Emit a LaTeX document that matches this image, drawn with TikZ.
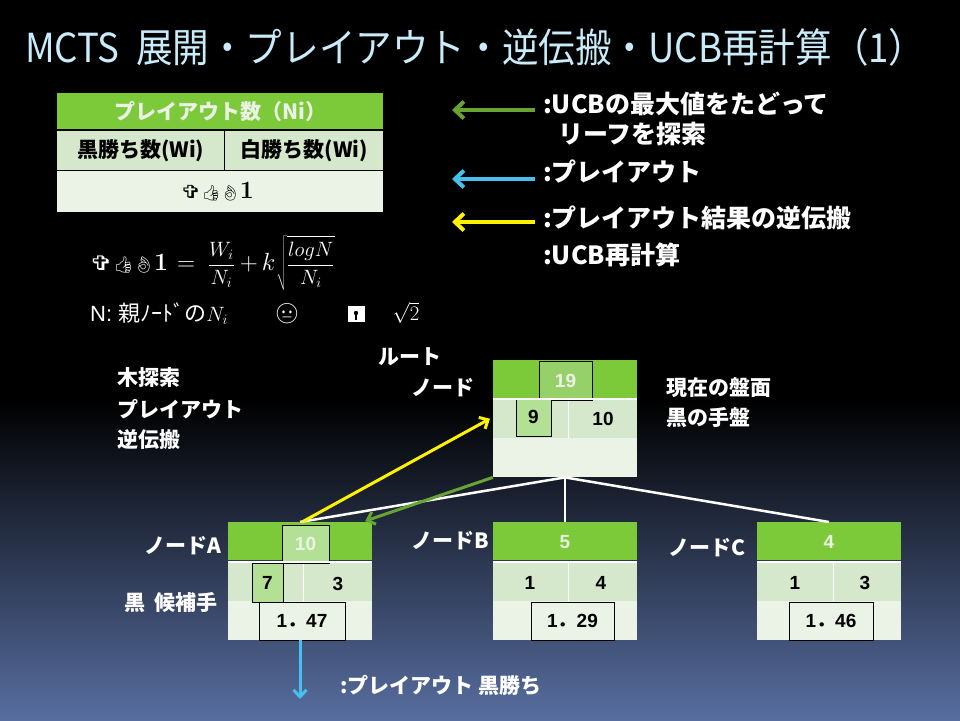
\documentclass[tikz,border=0pt]{standalone}
\usepackage[no-math]{fontspec}
\setmainfont{Liberation Sans}
\newfontfamily\jp{Noto Sans CJK JP}
\newfontfamily\emo{Noto Emoji}
\newfontfamily\dv{DejaVu Sans}
\usetikzlibrary{arrows.meta}
\definecolor{hdr}{RGB}{124,202,58}
\definecolor{rowb}{RGB}{214,232,204}
\definecolor{rowc}{RGB}{235,243,230}
\definecolor{ovla}{RGB}{150,208,105}
\definecolor{ovlb}{RGB}{178,224,148}
\definecolor{titlec}{RGB}{200,236,250}
\definecolor{bgb}{RGB}{88,110,160}
\definecolor{arrG}{RGB}{104,164,52}
\definecolor{arrC}{RGB}{72,192,238}
\definecolor{arrY}{RGB}{255,242,0}
\newcommand{\fs}[1]{\fontsize{#1}{#1}\selectfont}
\newcommand{\ucbsym}[3]{{\dv\fs{#1}\scalebox{1.45}[1]{✞}}{\emo\fs{#2}👍👌}{\fs{#3}$\mathbf{1}$}}
\tikzset{
  hdrcell/.style={fill=hdr, inner sep=0pt, minimum width=144pt, minimum height=38pt},
  midcell/.style={fill=rowb, inner sep=0pt, minimum width=72pt, minimum height=39pt},
  lowcell/.style={fill=rowc, inner sep=0pt, minimum width=144pt, minimum height=39pt},
  ovbox/.style={draw=black, line width=0.8pt, inner sep=0pt},
  num/.style={font=\fs{19}\bfseries, text=black},
  wnum/.style={font=\fs{19}\bfseries, text=rowc},
  lbl/.style={font=\jp\bfseries\fs{21}, text=white, inner sep=0pt},
  leg/.style={font=\jp\bfseries\fs{25}, text=white, inner sep=0pt, anchor=west},
  tcell/.style={font=\jp\bfseries\fs{21}},
  tree/.style={draw=white, line width=2.5pt},
  legarrow/.style={line width=4pt, -{Straight Barb[length=9pt,width=17pt,line width=4pt]}},
  smarrow/.style={line width=3pt, -{Straight Barb[length=7pt,width=13pt,line width=3pt]}},
}
\begin{document}
\begin{tikzpicture}[x=1pt,y=-1pt]
\useasboundingbox (0,0) rectangle (960,720);
\fill[black] (0,0) rectangle (960,720);
\shade[top color=black, bottom color=bgb] (0,400) rectangle (960,720.5);

% title
\node[text=titlec, font=\jp\fs{40}, xscale=0.915, anchor=west, inner sep=0pt] (title) at (25,47)
  {MCTS\ \ 展開・プレイアウト・逆伝搬・UCB再計算（1）};

% top-left table
\node[fill=hdr, minimum width=326pt, minimum height=36pt, inner sep=0pt, anchor=north west] (th) at (57,93) {};
\node[fill=rowb, minimum width=167pt, minimum height=39pt, inner sep=0pt, anchor=north west] (tl) at (57,131) {};
\node[fill=rowb, minimum width=158pt, minimum height=39pt, inner sep=0pt, anchor=north west] (tr) at (225,131) {};
\node[fill=rowc, minimum width=326pt, minimum height=41pt, inner sep=0pt, anchor=north west] (tu) at (57,171) {};
\node[tcell, text=rowc] (tht) at (th) {プレイアウト数（Ni）};
\node[tcell, text=black] (tlt) at (tl) {黒勝ち数(Wi)};
\node[tcell, text=black] (trt) at (tr) {白勝ち数(Wi)};
\node[text=black, inner sep=0pt] (tut) at (217,192) {\ucbsym{18}{15}{26}};

% formula
\node[text=white, anchor=west, inner sep=0pt] (formula) at (89,263)
  {\ucbsym{20}{16}{28}\hspace{9pt}{\fs{26}$=$}\hspace{13pt}{\fs{22}$\displaystyle\frac{W_i}{N_i}$}%
   \hspace{5pt}{\fs{26}$+\,k$}\hspace{1pt}{\fs{22}$\displaystyle\sqrt{\frac{logN}{N_i}}$}};
\node[text=white, font=\fs{22}, anchor=west, inner sep=0pt] (nline) at (90,314)
  {N:\ {\jp 親ﾉｰﾄﾞの}$N_i$};
\node[text=white, font=\emo\fs{20}, inner sep=0pt] (face) at (287,314) {😐};
\node[fill=white, minimum width=17pt, minimum height=16pt, inner sep=0pt] (disk) at (356,314) {};
\fill[black] ([xshift=-4pt,yshift=2pt]disk.north) rectangle ([xshift=6pt,yshift=6pt]disk.north);
\fill[black] ([yshift=1pt]disk.center) circle (2.2pt);
\fill[black] ([xshift=-1pt]disk.center) rectangle ([xshift=1pt,yshift=-5.5pt]disk.center);
\node[text=white, font=\fs{22}, inner sep=0pt] (sq2) at (406,313) {$\sqrt{2}$};

% legend
\coordinate (g1) at (535,110); \coordinate (g2) at (452,110);
\coordinate (c1) at (535,179); \coordinate (c2) at (452,179);
\coordinate (y1) at (535,222); \coordinate (y2) at (452,222);
\draw[legarrow, arrG] (g1) -- (g2);
\draw[legarrow, arrC] (c1) -- (c2);
\draw[legarrow, arrY] (y1) -- (y2);
\node[leg] (l1) at (543,104) {:UCBの最大値をたどって};
\node[leg] (l2) at (558,134) {リーフを探索};
\node[leg] (l3) at (543,172) {:プレイアウト};
\node[leg] (l4) at (543,218) {:プレイアウト結果の逆伝搬};
\node[leg] (l5) at (543,255) {:UCB再計算};

% side labels
\node[lbl, anchor=west] (s1) at (117,378) {木探索};
\node[lbl, anchor=west] (s2) at (117,409) {プレイアウト};
\node[lbl, anchor=west] (s3) at (117,440) {逆伝搬};
\node[lbl, anchor=west] (rt1) at (378,357) {ルート};
\node[lbl, anchor=west] (rt2) at (411,388) {ノード};
\node[lbl, anchor=west] (cur1) at (666,388) {現在の盤面};
\node[lbl, anchor=west] (cur2) at (666,418) {黒の手盤};
\node[lbl, anchor=east] (la) at (222,546) {ノードA};
\node[lbl, anchor=east] (lb) at (489,541) {ノードB};
\node[lbl, anchor=east] (lc) at (746,548) {ノードC};
\node[lbl, anchor=east] (lcand) at (218,603) {黒\ \ 候補手};

% root node
\node[hdrcell, anchor=north] (R-h) at (565,360) {};
\node[midcell, anchor=north west] (R-l) at (493,399) {};
\node[midcell, anchor=north west] (R-r) at (565,399) {};
\node[lowcell, anchor=north] (R-u) at (565,438) {};
\draw[white, line width=0.8pt] (568,399) -- (568,438);
\node[ovbox, fill=ovla, minimum width=53pt, minimum height=39pt, wnum] (R-n) at (565.5,380.5) {19};
\node[ovbox, fill=ovlb, minimum width=35pt, minimum height=38pt, num] (R-w) at (533.5,417) {9};
\node[num] (R-b) at (603,419) {10};

% node A
\node[hdrcell, anchor=north] (A-h) at (300,522) {};
\node[midcell, anchor=north west] (A-l) at (228,562) {};
\node[midcell, anchor=north west] (A-r) at (300,562) {};
\node[lowcell, anchor=north] (A-u) at (300,601) {};
\draw[white, line width=0.8pt] (303,562) -- (303,601);
\node[ovbox, fill=ovlb, minimum width=47pt, minimum height=38pt, wnum] (A-n) at (305.5,544) {10};
\node[ovbox, fill=ovlb, minimum width=31pt, minimum height=39pt, num] (A-w) at (267.5,582.5) {7};
\node[num] (A-b) at (338,584) {3};
\node[ovbox, fill=rowc, minimum width=86pt, minimum height=38pt, num] (A-ucb) at (302,621) {1{\jp ．}47};

% node B
\node[hdrcell, anchor=north] (B-h) at (565,522) {};
\node[midcell, anchor=north west] (B-l) at (493,562) {};
\node[midcell, anchor=north west] (B-r) at (565,562) {};
\node[lowcell, anchor=north] (B-u) at (565,601) {};
\draw[white, line width=0.8pt] (568,562) -- (568,601);
\node[wnum] (B-n) at (565,542) {5};
\node[num] (B-w) at (530,583) {1};
\node[num] (B-b) at (601,583) {4};
\node[ovbox, fill=rowc, minimum width=83pt, minimum height=38pt, num] (B-ucb) at (572.5,621) {1{\jp ．}29};

% node C
\node[hdrcell, anchor=north] (C-h) at (829,522) {};
\node[midcell, anchor=north west] (C-l) at (757,562) {};
\node[midcell, anchor=north west] (C-r) at (829,562) {};
\node[lowcell, anchor=north] (C-u) at (829,601) {};
\draw[white, line width=0.8pt] (833,562) -- (833,601);
\node[wnum] (C-n) at (829,542) {4};
\node[num] (C-w) at (795,583) {1};
\node[num] (C-b) at (865,583) {3};
\node[ovbox, fill=rowc, minimum width=84pt, minimum height=38pt, num] (C-ucb) at (831,621) {1{\jp ．}46};

% separators between header and middle rows
\foreach \n in {R,A,B,C}{
  \draw[white, line width=2pt] (\n-l.north west) -- (\n-r.north east);
}

% tree edges
\draw[tree] (R-u.south) -- (A-h.north);
\draw[tree] (R-u.south) -- (B-h.north);
\draw[tree] (R-u.south) -- (C-h.north);

% search / backprop arrows
\draw[arrY, smarrow] ([xshift=2pt]A-h.north) -- ([xshift=-3pt]R-l.west);
\draw[arrG, smarrow] (R-u.south west) -- ([xshift=-7pt,yshift=1pt]A-h.north east);

% playout arrow
\coordinate (pend) at (300,699);
\draw[arrC, smarrow] (A-ucb.south) ++(-2pt,0) -- (pend);
\node[lbl, anchor=west] (pres) at (340,685) {:プレイアウト\ 黒勝ち};
\end{tikzpicture}
\end{document}
